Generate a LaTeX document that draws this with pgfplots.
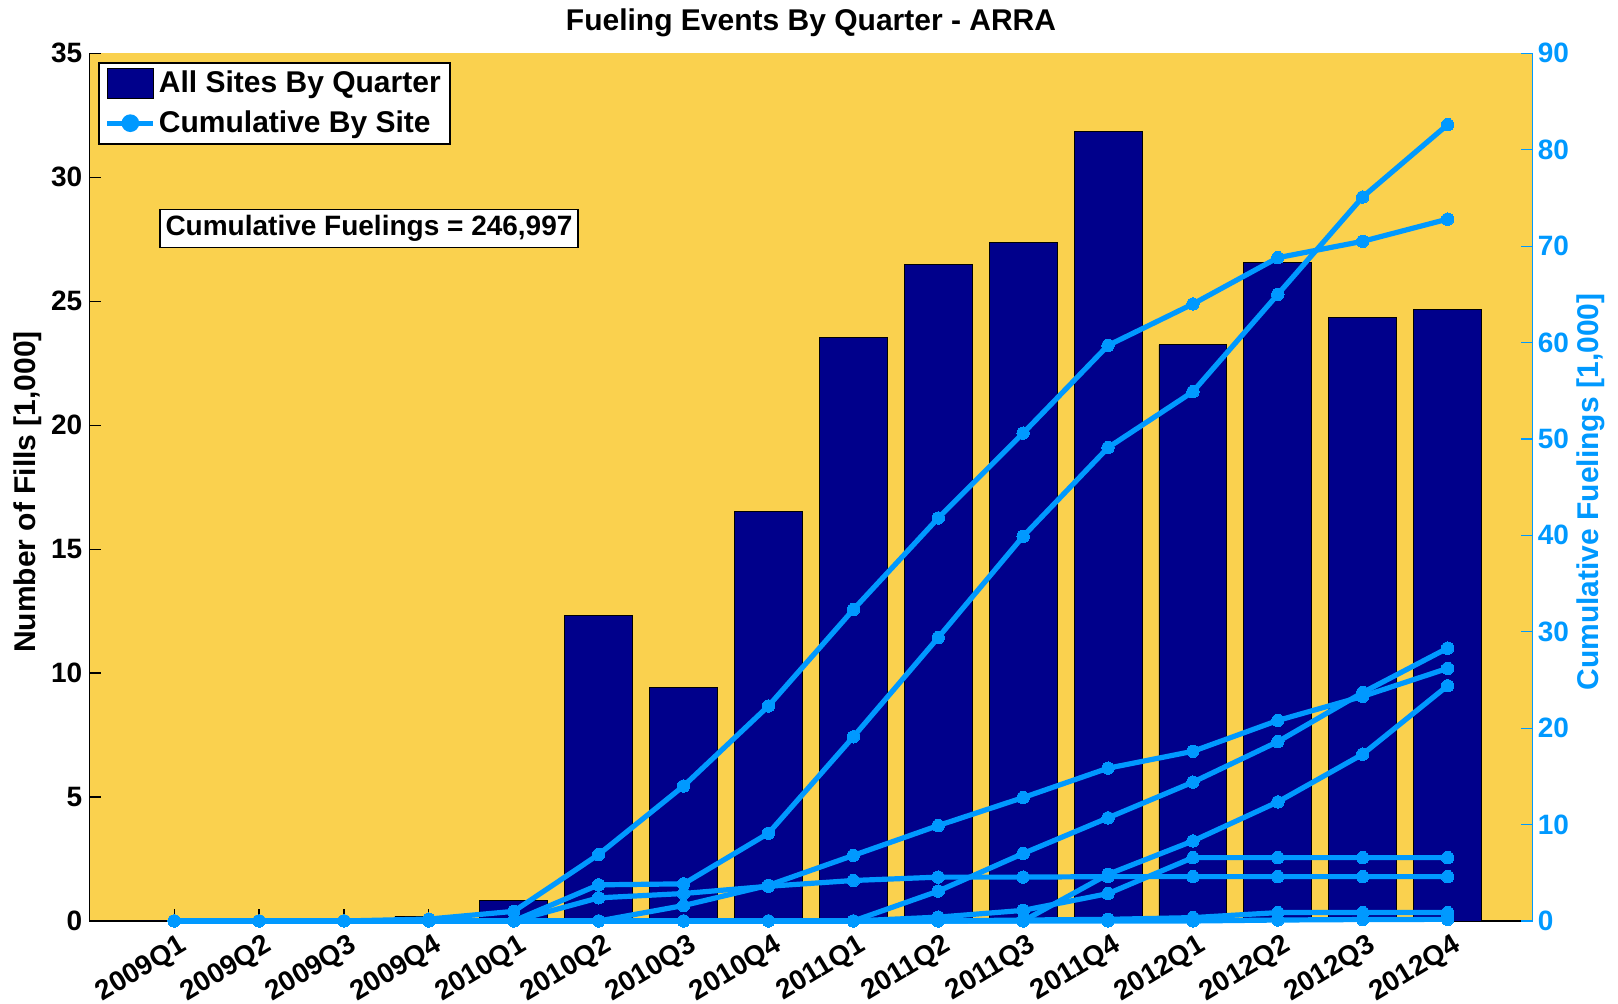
\documentclass[border=0pt]{standalone}
\usepackage{fontspec}
\setmainfont{Liberation Sans}
\usepackage{pgfplots}
\pgfplotsset{compat=1.18}
\definecolor{navy}{RGB}{0,0,139}
\definecolor{bgyel}{RGB}{250,209,78}
\definecolor{lblue}{RGB}{0,153,255}
\pgfplotsset{cum/.style={lblue, line width=2.6pt, mark=*, mark size=3.1pt, mark options={fill=lblue, draw=lblue, line width=0pt}}}
\begin{document}
\begin{tikzpicture}
\useasboundingbox (0,0) rectangle (809pt,502pt);
\begin{axis}[
  scale only axis, width=721.6pt, height=433.85pt,
  at={(44.65pt,41.5pt)}, anchor=south west,
  xmin=-1, xmax=16, ymin=0, ymax=35,
  axis background/.style={fill=bgyel},
  axis x line*=bottom, axis y line*=left,
  axis line style={black, line width=0.8pt},
  xtick={0,...,15},
  xticklabels={2009Q1,2009Q2,2009Q3,2009Q4,2010Q1,2010Q2,2010Q3,2010Q4,2011Q1,2011Q2,2011Q3,2011Q4,2012Q1,2012Q2,2012Q3,2012Q4},
  ytick={0,5,10,15,20,25,30,35},
  tick align=inside, major tick length=6pt,
  tick style={black, line width=0.6pt},
  /pgf/number format/assume math mode=true,
  ticklabel style={font=\fontsize{14}{16}\selectfont\bfseries},
  xticklabel style={xshift=2pt, yshift=-5.8pt, rotate=31, anchor=north east, inner sep=0pt},
  yticklabel style={anchor=east, inner sep=0pt, xshift=-3.3pt},
]
\addplot[ybar, bar width=0.8, fill=navy, draw=black, line width=0.4pt] coordinates {
(0,0) (1,0) (2,0) (3,0.2) (4,0.84) (5,12.31) (6,9.43) (7,16.52) (8,23.53) (9,26.49) (10,27.37) (11,31.83) (12,23.24) (13,26.58) (14,24.36) (15,24.65)};
\end{axis}
\begin{axis}[
  scale only axis, width=721.6pt, height=433.85pt,
  at={(44.65pt,41.5pt)}, anchor=south west,
  xmin=-1, xmax=16, ymin=0, ymax=90,
  hide x axis,
  axis y line*=right,
  axis line style={lblue, line width=0.8pt},
  ytick={0,10,...,90},
  tick align=inside, major tick length=6pt,
  tick style={lblue, line width=0.6pt},
  /pgf/number format/assume math mode=true,
  yticklabel style={font=\fontsize{14}{16}\selectfont\bfseries, text=lblue, anchor=west, inner sep=0pt, xshift=2.5pt},
  clip=false,
  legend style={at={(0.006,0.99)}, anchor=north west, draw=black, line width=0.8pt, fill=white,
    font=\fontsize{15}{18}\selectfont\bfseries, inner xsep=3pt, inner ysep=0.5pt, row sep=0pt,
    nodes={inner sep=1.5pt, minimum height=19.8pt}},
  legend cell align=left,
]
\addlegendimage{legend image code/.code={\draw[fill=navy,draw=black,line width=0.6pt] (0pt,-7.5pt) rectangle (23pt,7.5pt);}}
\addlegendentry{All Sites By Quarter}
\addplot[cum, legend image code/.code={\draw[lblue, line width=2.6pt] (0pt,0pt) -- (23pt,0pt); \fill[lblue] (11.5pt,0pt) circle (3.1pt);}] coordinates {
(0,0) (1,0) (2,0) (3,0.2) (4,1.0) (5,6.9) (6,14.0) (7,22.3) (8,32.3) (9,41.8) (10,50.6) (11,59.7) (12,64.0) (13,68.8) (14,70.5) (15,72.8)};
\addlegendentry{Cumulative By Site}
\addplot[cum, forget plot] coordinates {
(0,0) (1,0) (2,0) (3,0) (4,0) (5,3.75) (6,3.85) (7,9.1) (8,19.1) (9,29.4) (10,39.9) (11,49.1) (12,54.9) (13,65.0) (14,75.1) (15,82.6)};
\addplot[cum, forget plot] coordinates {
(0,0) (1,0) (2,0) (3,0) (4,0) (5,0) (6,1.6) (7,3.7) (8,6.8) (9,9.9) (10,12.8) (11,15.85) (12,17.6) (13,20.8) (14,23.3) (15,26.2)};
\addplot[cum, forget plot] coordinates {
(0,0) (1,0) (2,0) (3,0) (4,0) (5,2.4) (6,2.85) (7,3.6) (8,4.2) (9,4.55) (10,4.55) (11,4.6) (12,4.6) (13,4.6) (14,4.6) (15,4.6)};
\addplot[cum, forget plot] coordinates {
(0,0) (1,0) (2,0) (3,0) (4,0) (5,0) (6,0) (7,0) (8,0) (9,3.1) (10,7.0) (11,10.7) (12,14.4) (13,18.6) (14,23.7) (15,28.3)};
\addplot[cum, forget plot] coordinates {
(0,0) (1,0) (2,0) (3,0) (4,0) (5,0) (6,0) (7,0) (8,0) (9,0) (10,0) (11,4.84) (12,8.3) (13,12.35) (14,17.3) (15,24.4)};
\addplot[cum, forget plot] coordinates {
(0,0) (1,0) (2,0) (3,0) (4,0) (5,0) (6,0) (7,0) (8,0) (9,0.4) (10,1.1) (11,2.84) (12,6.57) (13,6.57) (14,6.57) (15,6.57)};
\addplot[cum, forget plot] coordinates {
(0,0) (1,0) (2,0) (3,0) (4,0) (5,0) (6,0) (7,0) (8,0) (9,0) (10,0.1) (11,0.17) (12,0.35) (13,0.87) (14,0.87) (15,0.87)};
\addplot[cum, forget plot] coordinates {
(0,0) (1,0) (2,0) (3,0) (4,0) (5,0) (6,0) (7,0) (8,0) (9,0) (10,0) (11,0) (12,0) (13,0.1) (14,0.15) (15,0.17)};
\end{axis}
\node[anchor=base, font=\fontsize{15}{18}\selectfont\bfseries] at (405.5pt,486.5pt) {Fueling Events By Quarter - ARRA};
\node[rotate=90, font=\fontsize{15}{18}\selectfont\bfseries] at (14pt,256pt) {Number of Fills [1,000]};
\node[rotate=90, text=lblue, font=\fontsize{15}{18}\selectfont\bfseries] at (795.5pt,256pt) {Cumulative Fuelings [1,000]};
\node[draw=black, fill=white, line width=0.6pt, inner sep=1pt, minimum width=209pt, minimum height=19pt, font=\fontsize{14}{16}\selectfont\bfseries] at (184.5pt,387.7pt) {Cumulative Fuelings = 246,997};
\end{tikzpicture}
\end{document}
